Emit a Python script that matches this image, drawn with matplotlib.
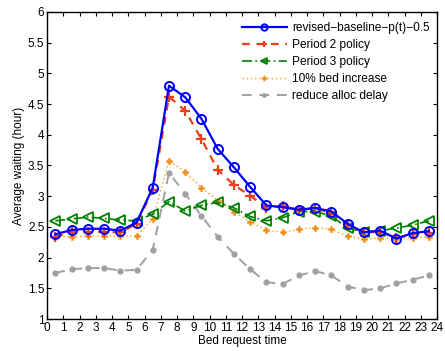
import matplotlib
matplotlib.use("Agg")
import matplotlib.pyplot as plt
import numpy as np

hours = [h + 0.5 for h in range(24)]
baseline = [2.38, 2.45, 2.47, 2.47, 2.44, 2.57, 3.14, 4.80, 4.61, 4.26, 3.77, 3.47,
            3.15, 2.85, 2.82, 2.78, 2.81, 2.75, 2.55, 2.41, 2.44, 2.31, 2.40, 2.43]
period2 = [2.34, 2.41, 2.42, 2.42, 2.41, 2.55, 3.10, 4.62, 4.39, 3.93, 3.43, 3.18,
           3.01, 2.81, 2.84, 2.78, 2.80, 2.73, 2.53, 2.41, 2.42, 2.32, 2.38, 2.40]
period3 = [2.60, 2.63, 2.66, 2.64, 2.61, 2.60, 2.71, 2.91, 2.76, 2.85, 2.90, 2.81,
           2.67, 2.60, 2.65, 2.75, 2.75, 2.68, 2.48, 2.42, 2.44, 2.48, 2.53, 2.60]
bed10 = [2.34, 2.34, 2.35, 2.35, 2.35, 2.35, 2.63, 3.58, 3.39, 3.14, 2.93, 2.75,
         2.58, 2.45, 2.41, 2.46, 2.49, 2.46, 2.35, 2.30, 2.32, 2.31, 2.32, 2.34]
alloc = [1.75, 1.81, 1.83, 1.83, 1.79, 1.80, 2.13, 3.38, 3.04, 2.68, 2.34, 2.06,
         1.81, 1.60, 1.57, 1.71, 1.78, 1.71, 1.53, 1.47, 1.50, 1.58, 1.64, 1.71]
labels = ["revised\u2212baseline\u2212p(t)\u22120.5", "Period 2 policy", "Period 3 policy",
          "10% bed increase", "reduce alloc delay"]

plt.rcParams['font.family'] = ['Liberation Sans', 'DejaVu Sans']
fig = plt.figure(figsize=(4.45, 3.51), dpi=100)
ax = fig.add_axes([0.106, 0.091, 0.876, 0.875])

ax.plot(hours, baseline, color='#0000ff', lw=1.6, marker='o', ms=6.5,
        mfc='none', mew=1.4, label=labels[0], zorder=5)
ax.plot(hours, period2, color='#e8401c', lw=1.6, ls=(0, (3.5, 3)), marker='+', ms=7,
        mew=1.6, label=labels[1], zorder=4)
ax.plot(hours, period3, color='#008000', lw=1.2, ls=(0, (6, 2, 1, 2)), marker='<', ms=7,
        mfc='none', mew=1.3, label=labels[2], zorder=3)
ax.plot(hours, bed10, color='#f39c1e', lw=1.0, ls=(0, (1, 2)), marker='P', ms=5.0,
        mfc='#ee8a10', mec='#f5a640', mew=0.5, label=labels[3], zorder=2)
ax.plot(hours, alloc, color='#a0a0a0', lw=1.4, ls=(0, (5, 4)), marker='o', ms=3.5,
        mfc='#a0a0a0', mec='#a0a0a0', label=labels[4], zorder=1)

ax.set_xlim(0, 24)
ax.set_ylim(1, 6)
ax.set_xticks(range(25))
ax.set_yticks(np.arange(1, 6.5, 0.5))
ax.set_yticklabels(['1', '1.5', '2', '2.5', '3', '3.5', '4', '4.5', '5', '5.5', '6'])
ax.tick_params(direction='in', top=True, right=True, labelsize=8.5, length=3, width=0.8, pad=2)
for s in ax.spines.values():
    s.set_linewidth(1.0)
ax.set_xlabel('Bed request time', fontsize=8.5, labelpad=1)
ax.set_ylabel('Average waiting (hour)', fontsize=8.5, labelpad=2)

leg = ax.legend(loc='upper right', fontsize=8.6, frameon=False, handlelength=3.8,
                handletextpad=0.42, labelspacing=0.42, borderaxespad=0.2,
                markerscale=0.7, bbox_to_anchor=(1.0, 0.99))

fig.savefig('out.png', dpi=100)
